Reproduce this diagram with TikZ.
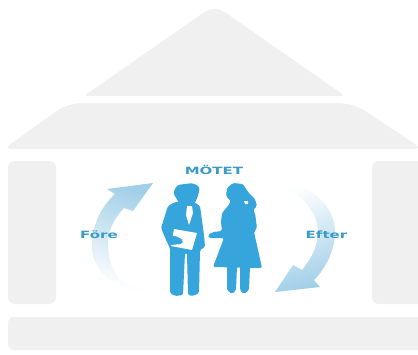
\documentclass[tikz,border=0pt]{standalone}
\usepackage{fontspec}
\setmainfont{DejaVu Sans}
\usepackage{tikz}
\definecolor{wallgray}{HTML}{F0F0F0}
\definecolor{figblue}{HTML}{35A5DC}
\definecolor{arrowblue}{HTML}{A2CFE8}
\definecolor{arrowpale}{HTML}{DCEAF2}
\definecolor{textblue}{HTML}{3A9CC6}
\tikzset{
  housepart/.style={fill=wallgray,draw=none},
  figure/.style={fill=figblue,draw=none,rounded corners=1.5pt},
  cutout/.style={fill=white,draw=none,rounded corners=0.5pt},
  phaselabel/.style={font=\fontsize{10}{12}\bfseries,text=textblue,xscale=1.5,inner sep=0pt},
}
\begin{document}
\begin{tikzpicture}[x=1pt,y=-1pt]
  \useasboundingbox (0,0) rectangle (418,354);
  \fill[white] (0,0) rectangle (418,354);

  % house
  \fill[housepart,rounded corners=3pt] (84,96) [rounded corners=12pt] -- (214.5,5) [rounded corners=3pt] -- (345,96) -- cycle;
  \fill[housepart,rounded corners=3pt] (8,149) -- (8,146) -- (58,110) [rounded corners=10pt] -- (72,103) -- (348,103) [rounded corners=3pt] -- (362,109) -- (418,146) -- (418,149) -- cycle;
  \fill[housepart,rounded corners=7pt] (8,161) rectangle (56,304);
  \fill[housepart,rounded corners=7pt] (372,161) rectangle (425,304);
  \fill[housepart,rounded corners=6pt] (8,317) rectangle (425,350);

  % cycle arrows
  \shade[top color=arrowblue,middle color=arrowpale,bottom color=white,shading angle=-15]
    (147,291) .. controls (118,288) and (108,268) .. (108,243)
    .. controls (108,229) and (116,216) .. (124,208)
    -- (133,211) -- (153,183) -- (107,189) -- (115,194)
    .. controls (100,208) and (92,226) .. (92,247)
    .. controls (92,272) and (118,292) .. (147,291) -- cycle;
  \shade[top color=white,middle color=arrowpale,bottom color=arrowblue,shading angle=15]
    (283,180) .. controls (310,186) and (335,205) .. (335,232)
    .. controls (335,250) and (326,268) .. (314,280)
    -- (320,287) -- (275,292) -- (293,265) -- (302,270)
    .. controls (312,258) and (318,245) .. (318,232)
    .. controls (318,212) and (302,194) .. (282,187) -- cycle;

  % left figure
  \fill[figure,rounded corners=3pt] (173,193) -- (177,185) -- (193,183) -- (200,187) -- (198,196) -- (194,205) -- (180,205) -- (178,201) -- cycle;
  \fill[figure] (175,202) -- (168,206) -- (161,228) -- (167,242) -- (170,248) -- (170,293) -- (175,296) -- (183,295) -- (185,253) -- (187,253) -- (188,295) -- (193,296) -- (199,293) -- (200,250) -- (205,247) -- (204,235) -- (200,206) -- (194,202) -- cycle;
  \fill[cutout] (187,206) -- (192,206) -- (193,213) -- (189,225) -- (186,215) -- cycle;
  \fill[cutout] (174,229) -- (197,233) -- (192,250) -- (171,246) -- cycle;
  \fill[figure] (165,236) -- (176,236) -- (183,240) -- (182,244) -- (170,245) -- cycle;

  % right figure
  \fill[figure] (226,196) -- (227,188) -- (233,183) -- (243,184) -- (248,192) -- (255,199) -- (257,206) -- (253,210) -- (255,213) -- (257,228) -- (254,232) -- (262,268) -- (213,267) -- (224,238) -- (218,238) -- (209,238) -- (208,235) -- (213,232) -- (222,231) -- (221,222) -- (222,213) -- (228,206) -- (231,201) -- cycle;
  \fill[figure] (227,266) -- (227,290) -- (232,294) -- (236,290) -- (237,266) -- cycle;
  \fill[figure] (240,266) -- (240,290) -- (244,294) -- (249,290) -- (250,266) -- cycle;
  \fill[cutout] (244,201) -- (248,201) -- (248,204) -- (245,204) -- cycle;

  % labels
  \node[phaselabel] (motet) at (214,170) {MÖTET};
  \node[phaselabel] (fore)  at (99,235)  {Före};
  \node[phaselabel] (efter) at (326.5,235) {Efter};
\end{tikzpicture}
\end{document}
